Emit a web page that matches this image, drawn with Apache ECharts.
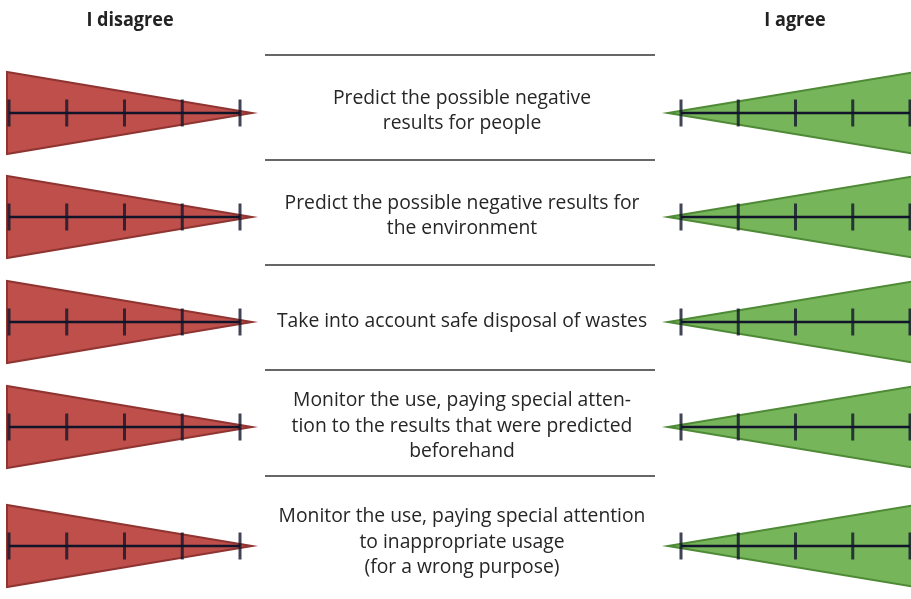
<!DOCTYPE html>
<html><head><meta charset="utf-8">
<script src="https://cdn.jsdelivr.net/npm/echarts@6/dist/echarts.min.js"></script>
<style>html,body{margin:0;padding:0;background:#fff}#c{width:911px;height:599px}</style>
</head><body><div id="c"></div>
<script>
// ---- data ----
const statements = [
  'Predict the possible negative\nresults for people',
  'Predict the possible negative results for\nthe environment',
  'Take into account safe disposal of wastes',
  'Monitor the use, paying special atten-\ntion to the results that were predicted\nbeforehand',
  'Monitor the use, paying special attention\nto inappropriate usage\n(for a wrong purpose)'
];
const scalePoints = [1, 2, 3, 4, 5];
const sideLabels = ['I disagree', 'I agree'];

// ---- layout (positions/styles only) ----
const rowCenters = [113, 217, 322, 427, 546];
const textCenters = [111, 216, 321, 426, 542];
const separators = [55, 160, 265, 370, 476];
const sides = [
  { left: 9, width: 231, fill: '#bf4f4b', stroke: '#8f3431', dir: 'disagree' },
  { left: 681, width: 229, fill: '#76b55a', stroke: '#4f8a36', dir: 'agree' }
];
const FONT = '"Open Sans", "Noto Sans", sans-serif';

const grid = [], xAxis = [], yAxis = [], series = [];
rowCenters.forEach((c, r) => {
  sides.forEach((s, k) => {
    const gi = grid.length;
    grid.push({ left: s.left, width: s.width, top: c - 41, height: 82 });
    xAxis.push({ gridIndex: gi, type: 'value', min: scalePoints[0], max: scalePoints[scalePoints.length - 1], show: false });
    yAxis.push({ gridIndex: gi, type: 'value', min: -1, max: 1, show: false });
    const side = s;
    series.push({
      type: 'custom', xAxisIndex: gi, yAxisIndex: gi, silent: true, clip: false, z: 1,
      data: [[0]],
      renderItem: function (params, api) {
        const a = api.coord([scalePoints[0], 1]);
        const b = api.coord([scalePoints[0], -1]);
        const e = api.coord([scalePoints[scalePoints.length - 1], 0]);
        const ea = api.coord([scalePoints[scalePoints.length - 1], 1]);
        const eb = api.coord([scalePoints[scalePoints.length - 1], -1]);
        const a0 = api.coord([scalePoints[0], 0]);
        let pts;
        if (side.dir === 'disagree') {
          pts = [[a[0] - 2, a[1]], [b[0] - 2, b[1]], [e[0] + 12, e[1]]];
        } else {
          pts = [[a0[0] - 13, a0[1]], [ea[0] + 6, ea[1]], [eb[0] + 6, eb[1]]];
        }
        return { type: 'polygon', shape: { points: pts },
          style: { fill: side.fill, stroke: side.stroke, lineWidth: 2, lineJoin: 'miter' } };
      }
    });
    series.push({
      type: 'line', xAxisIndex: gi, yAxisIndex: gi, silent: true, z: 2,
      data: scalePoints.map(v => [v, 0]), symbol: 'none',
      lineStyle: { color: '#12152a', width: 2.4 }
    });
    series.push({
      type: 'scatter', xAxisIndex: gi, yAxisIndex: gi, silent: true, z: 3,
      data: scalePoints.map(v => [v, 0]), symbol: 'rect', symbolSize: [3, 27],
      itemStyle: { color: '#12152a' }
    });
  });
});

const graphic = [];
separators.forEach(y => {
  graphic.push({ type: 'line', shape: { x1: 265, y1: y, x2: 655, y2: y }, style: { stroke: '#333', lineWidth: 1.5 }, silent: true });
});
statements.forEach((t, i) => {
  graphic.push({ type: 'text', x: 462, y: textCenters[i], scaleX: 0.965, silent: true,
    style: { text: t, x: 0, y: 0, textAlign: 'center', textVerticalAlign: 'middle',
      font: '20px ' + FONT, fill: '#262626', lineHeight: 25.5 } });
});
[130, 795].forEach((x, i) => {
  graphic.push({ type: 'text', x: x, y: 21, scaleX: 0.95, silent: true,
    style: { text: sideLabels[i], x: 0, y: 0, textAlign: 'center', textVerticalAlign: 'middle',
      font: 'bold 19px ' + FONT, fill: '#222' } });
});

const chart = echarts.init(document.getElementById('c'), null, { renderer: 'canvas' });
chart.setOption({ animation: false, backgroundColor: '#fff', grid, xAxis, yAxis, series, graphic });
</script>
</body></html>
